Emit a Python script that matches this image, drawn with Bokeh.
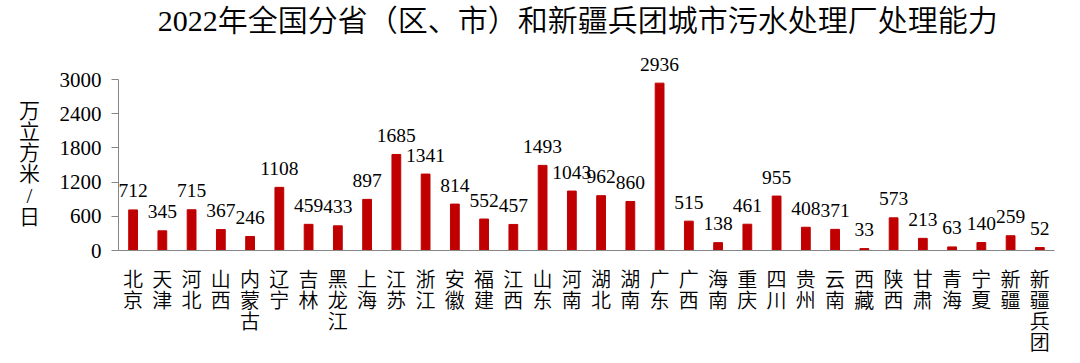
from bokeh.plotting import figure
from bokeh.models import ColumnDataSource, Range1d, FixedTicker
from bokeh.core.properties import value
from bokeh.embed import file_html
from bokeh.resources import INLINE

title_text = "2022年全国分省（区、市）和新疆兵团城市污水处理厂处理能力"
y_label = "万立方米/日"
regions = ["北京", "天津", "河北", "山西", "内蒙古", "辽宁", "吉林", "黑龙江", "上海", "江苏",
           "浙江", "安徽", "福建", "江西", "山东", "河南", "湖北", "湖南", "广东", "广西",
           "海南", "重庆", "四川", "贵州", "云南", "西藏", "陕西", "甘肃", "青海", "宁夏",
           "新疆", "新疆兵团"]
capacity = [712, 345, 715, 367, 246, 1108, 459, 433, 897, 1685,
            1341, 814, 552, 457, 1493, 1043, 962, 860, 2936, 515,
            138, 461, 955, 408, 371, 33, 573, 213, 63, 140,
            259, 52]
y_ticks = [0, 600, 1200, 1800, 2400, 3000]

FONT = "'Liberation Serif', 'Noto Sans CJK SC DemiLight', 'Noto Sans CJK SC Light', 'Noto Sans CJK SC', serif"
W, H = 1080, 363
# frame covers the whole canvas; plot area (0..3000, slots -0.5..31.5) placed inside it
PX_PER_SLOT = 29.25
X0_PX = 132.6            # page x of first slot centre
Y0_PX, Y1_PX = 250, 79   # page y of 0 and of 3000
y_per_px = 3000 / (Y0_PX - Y1_PX)

n = len(regions)
xs = list(range(n))
source = ColumnDataSource(dict(x=xs, top=capacity, label=[str(v) for v in capacity]))

# character-by-character category labels
cx, cch, coff = [], [], []
for i, r in enumerate(regions):
    for k, ch in enumerate(r):
        cx.append(i)
        cch.append(ch)
        coff.append(29 + 21 * k)
cat_src = ColumnDataSource(dict(x=cx, y=[0] * len(cx), t=cch, off=coff))

p = figure(x_range=Range1d(-X0_PX / PX_PER_SLOT, (W - X0_PX) / PX_PER_SLOT),
           y_range=Range1d(-(H - Y0_PX) * y_per_px, Y0_PX * y_per_px),
           width=W, height=H, output_backend="svg", toolbar_location=None,
           min_border=0, min_border_left=0, min_border_right=0,
           min_border_top=0, min_border_bottom=0)
p.outline_line_color = None
p.xgrid.grid_line_color = None
p.ygrid.grid_line_color = None

p.vbar(x="x", top="top", width=0.3, source=source, color="#C00000")
p.text(x="x", y="top", text="label", source=source, text_align="center",
       text_baseline="alphabetic", y_offset=-19, text_font=value(FONT),
       text_font_size="19.5px", text_color="#000000")
p.text(x="x", y="y", text="t", y_offset="off", source=cat_src, text_align="center",
       text_baseline="middle", text_font=value(FONT), text_font_size="20px",
       text_color="#000000")

axis_color = "#868686"
p.yaxis.fixed_location = -0.5
p.yaxis.bounds = (0, 3000)
p.yaxis.ticker = FixedTicker(ticks=y_ticks)
p.yaxis.axis_line_color = axis_color
p.yaxis.major_tick_line_color = axis_color
p.yaxis.major_tick_out = 7
p.yaxis.major_tick_in = 0
p.yaxis.minor_tick_line_color = None
p.yaxis.major_label_text_font = FONT
p.yaxis.major_label_text_font_size = "21px"
p.yaxis.major_label_text_color = "#000000"
p.yaxis.major_label_standoff = 10

p.xaxis.fixed_location = 0
p.xaxis.bounds = (-0.5, n - 0.5)
p.xaxis.ticker = FixedTicker(ticks=[])
p.xaxis.axis_line_color = axis_color
p.xaxis.major_tick_line_color = None
p.xaxis.minor_tick_line_color = None
p.xaxis.major_label_text_font_size = "0px"

# title
p.text(x=[15.2], y=[(Y0_PX - 20) * y_per_px], text=[title_text], text_align="center",
       text_baseline="middle", text_font=value(FONT), text_font_size="30px",
       text_color="#000000")
# vertical y-axis label, one character per line
p.text(x=[(29 - X0_PX) / PX_PER_SLOT] * len(y_label), y=[(Y0_PX - 110) * y_per_px] * len(y_label),
       text=list(y_label), y_offset=[21.3 * k for k in range(len(y_label))],
       text_align="center", text_baseline="middle", text_font=value(FONT),
       text_font_size="21px", text_color="#000000")

open("out.html", "w").write(file_html(p, INLINE))
